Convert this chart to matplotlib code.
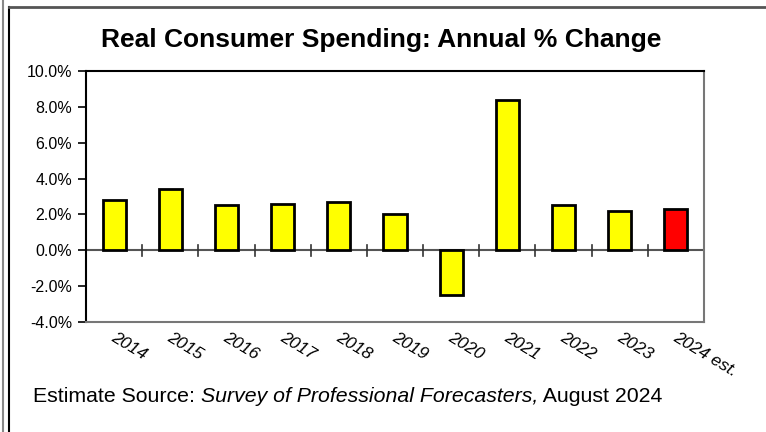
import matplotlib
matplotlib.use("Agg")
import matplotlib.pyplot as plt
from matplotlib.lines import Line2D
from matplotlib.ticker import FixedLocator, PercentFormatter

plt.rcParams['font.family'] = ['Liberation Sans', 'DejaVu Sans']
plt.rcParams['axes.unicode_minus'] = False

years = ["2014", "2015", "2016", "2017", "2018", "2019", "2020",
         "2021", "2022", "2023", "2024 est."]
pct_change = [2.8, 3.4, 2.5, 2.6, 2.7, 2.0, -2.5, 8.4, 2.5, 2.2, 2.3]
bar_colors = ["#FFFF00"] * 10 + ["#FF0000"]
y_ticks = [-4, -2, 0, 2, 4, 6, 8, 10]

W, H = 766, 432
fig = plt.figure(figsize=(W / 100, H / 100), dpi=100)
ax = fig.add_axes([86 / W, 1 - 322 / H, (704 - 86) / W, (322 - 71) / H])

x = list(range(len(years)))
ax.bar(x, pct_change, width=0.41, color=bar_colors, edgecolor="black",
       linewidth=2, zorder=3)

ax.set_xlim(-0.5, len(years) - 0.5)
ax.set_ylim(-4, 10)
ax.yaxis.set_major_locator(FixedLocator(y_ticks))
ax.yaxis.set_major_formatter(PercentFormatter(decimals=1))
ax.tick_params(axis="y", direction="out", length=6, width=1.2,
               labelsize=11.5, pad=4)

# zero line with category separators
ax.axhline(0, color="#555555", linewidth=1.5, zorder=2)
for b in [i + 0.5 for i in range(len(years) - 1)]:
    ax.plot([b, b], [-0.3, 0.3], color="#333333", linewidth=1.2, zorder=2)

ax.set_xticks([])
for i, lab in enumerate(years):
    ax.text(i - 0.03, -4.8, lab, rotation=-31, rotation_mode="anchor",
            ha="left", va="center", fontsize=12.5, style="italic")

ax.spines["left"].set_color("black")
ax.spines["top"].set_color("black")
ax.spines["right"].set_color("#777777")
ax.spines["bottom"].set_color("#777777")
for s in ax.spines.values():
    s.set_linewidth(1.5)

fig.text(381 / W, 1 - 40 / H, "Real Consumer Spending: Annual % Change",
         ha="center", va="center", fontsize=19, fontweight="bold")

# footer with italic publication name
renderer = fig.canvas.get_renderer()
xpos = 33 / W
ypos = 1 - 397 / H
for txt, st in [("Estimate Source: ", "normal"),
                ("Survey of Professional Forecasters,", "italic"),
                (" August 2024", "normal")]:
    t = fig.text(xpos, ypos, txt, ha="left", va="center", fontsize=15.3,
                 style=st)
    bb = t.get_window_extent(renderer=renderer)
    xpos += bb.width / W

# outer frame
fig.add_artist(Line2D([2.5 / W, 2.5 / W], [0, 1], color="#888888", lw=1.5))
fig.add_artist(Line2D([9 / W, 9 / W], [0, 1 - 7 / H], color="black", lw=1.5))
fig.add_artist(Line2D([9 / W, 1], [1 - 7 / H, 1 - 7 / H], color="#555555", lw=2))

fig.savefig("out.png", dpi=100)
